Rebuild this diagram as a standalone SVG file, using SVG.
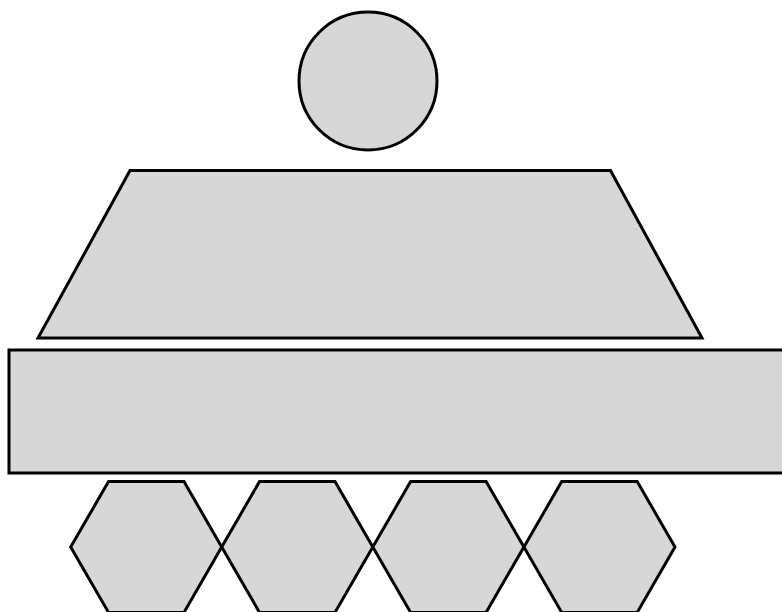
<svg xmlns="http://www.w3.org/2000/svg" width="782" height="612" viewBox="0 0 782 612">
<style>
.s{fill:#d7d7d7;stroke:#000;stroke-width:3;stroke-linejoin:miter}
</style>
<rect width="782" height="612" fill="#fff"/>
<g id="head"><circle class="s" cx="368" cy="81" r="69"/></g>
<g id="turret"><polygon class="s" points="130,170.5 610.5,170.5 702,338 38,338"/></g>
<g id="hull"><rect class="s" x="9" y="350" width="790" height="123"/></g>
<g id="wheel1"><polygon class="s" points="70.7,547 108.5,481.6 184,481.6 221.7,547 184,612.4 108.5,612.4"/></g>
<g id="wheel2"><polygon class="s" points="221.7,547 259.5,481.6 335,481.6 372.8,547 335,612.4 259.5,612.4"/></g>
<g id="wheel3"><polygon class="s" points="372.8,547 410.6,481.6 486.1,481.6 523.9,547 486.1,612.4 410.6,612.4"/></g>
<g id="wheel4"><polygon class="s" points="523.9,547 561.7,481.6 637.2,481.6 675,547 637.2,612.4 561.7,612.4"/></g>
<g id="connectors"></g>
</svg>
